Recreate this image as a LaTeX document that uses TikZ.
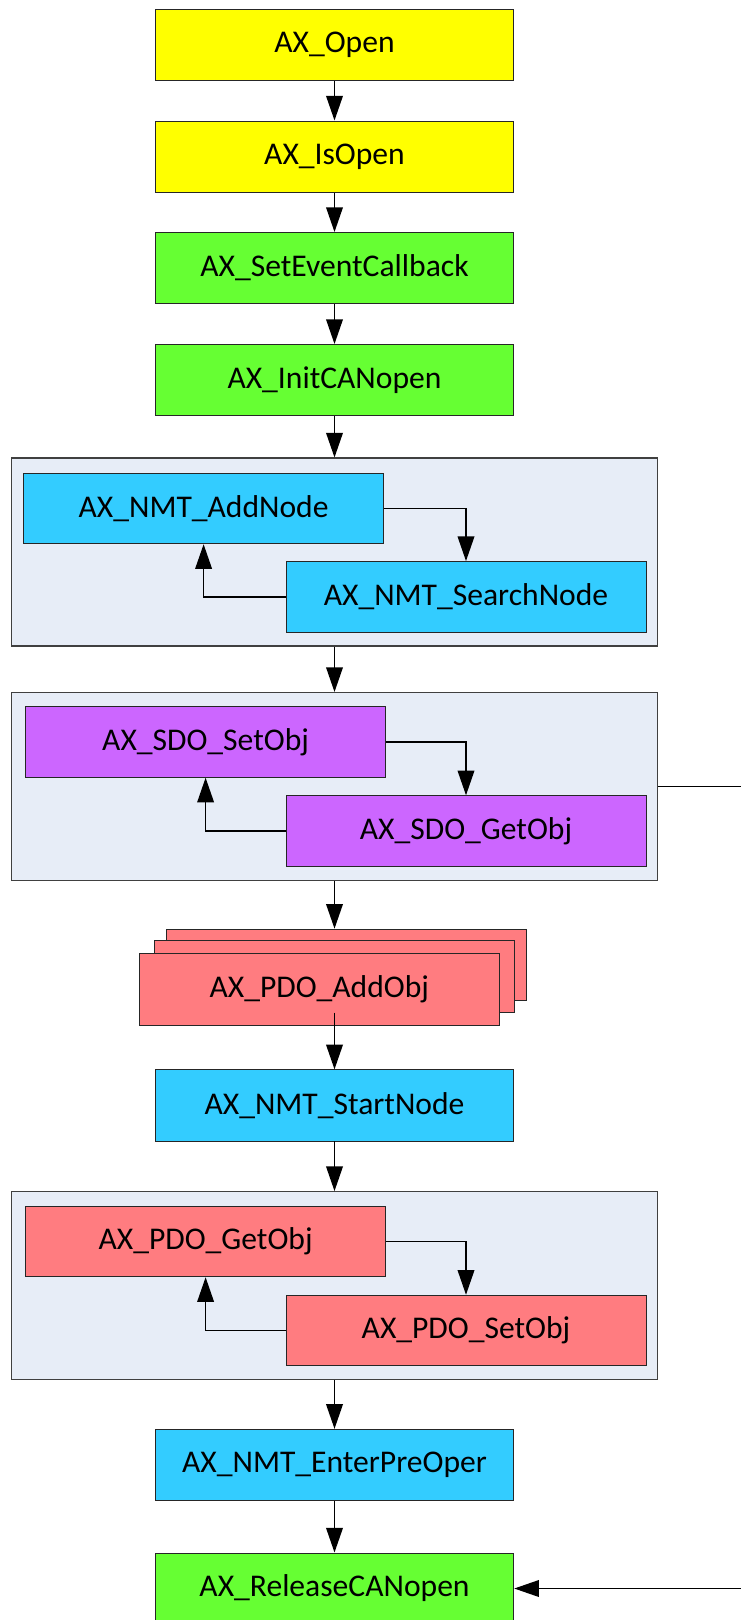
\documentclass[tikz,border=0pt]{standalone}
\usepackage{fontspec}
\setmainfont{Carlito}
\usetikzlibrary{arrows.meta}
\definecolor{cyel}{HTML}{FFFF00}
\definecolor{cgrn}{HTML}{66FF33}
\definecolor{ccya}{HTML}{33CCFF}
\definecolor{cpur}{HTML}{CC66FF}
\definecolor{csal}{HTML}{FF7C80}
\definecolor{cgrp}{HTML}{E7EDF7}
\definecolor{cgrpline}{HTML}{404040}
\begin{document}
\begin{tikzpicture}[x=0.75pt,y=-0.75pt,
  box/.style={draw=black!85, line width=0.6pt, minimum width=269pt, minimum height=53.4pt, inner sep=0pt, font=\fontsize{23.7}{28}\selectfont},
  ibox/.style={box, minimum width=270pt, minimum height=53pt},
  grp/.style={draw=cgrpline, line width=0.8pt, fill=cgrp, minimum width=484.2pt, minimum height=141pt, inner sep=0pt},
  arr/.style={draw=black, line width=1.1pt, -{Triangle[length=18.5pt,width=12.5pt]}},
  ln/.style={draw=black, line width=1.1pt}]
\useasboundingbox (0,0) rectangle (741,1620);

\node[box, fill=cyel] (open) at (334.5,45) {AX\_Open};
\node[box, fill=cyel] (isopen) at (334.5,156.5) {AX\_IsOpen};
\node[box, fill=cgrn] (setevt) at (334.5,268) {AX\_SetEventCallback};
\node[box, fill=cgrn] (init) at (334.5,380) {AX\_InitCANopen};

\node[grp] (g1) at (334.5,552) {};
\node[ibox, fill=ccya] (addnode) at (203.6,508.5) {AX\_NMT\_AddNode};
\node[ibox, fill=ccya] (search) at (466,596.8) {AX\_NMT\_SearchNode};

\node[grp] (g2) at (334.5,786.5) {};
\node[ibox, fill=cpur] (sdoset) at (205.6,742) {AX\_SDO\_SetObj};
\node[ibox, fill=cpur] (sdoget) at (466,831) {AX\_SDO\_GetObj};

\node[ibox, fill=csal, minimum height=53.6pt] (pdoback) at (346,964.8) {};
\node[ibox, fill=csal, minimum height=53.6pt] (pdomid) at (334.5,976.5) {};
\node[ibox, fill=csal, minimum height=53.6pt] (pdoadd) at (319.3,989.5) {AX\_PDO\_AddObj};

\node[box, fill=ccya] (start) at (334.5,1105.3) {AX\_NMT\_StartNode};

\node[grp] (g3) at (334.5,1285.6) {};
\node[ibox, fill=csal] (pdoget) at (205.6,1241.5) {AX\_PDO\_GetObj};
\node[ibox, fill=csal] (pdoset) at (466,1330.5) {AX\_PDO\_SetObj};

\node[box, fill=ccya] (enterpre) at (334.5,1464.8) {AX\_NMT\_EnterPreOper};
\node[box, fill=cgrn] (release) at (334.5,1588.5) {AX\_ReleaseCANopen};

\coordinate (redge) at (752,786.5);

\draw[arr] (open) -- (isopen);
\draw[arr] (isopen) -- (setevt);
\draw[arr] (setevt) -- (init);
\draw[arr] (init) -- (g1);
\draw[arr] (addnode.east) -| (search.north);
\draw[arr] (search.west) -| (addnode.south);
\draw[arr] (g1) -- (g2);
\draw[arr] (sdoset.east) -| (sdoget.north);
\draw[arr] (sdoget.west) -| (sdoset.south);
\draw[arr] (g2.south) -- (g2.south |- pdoback.north);
\draw[arr] (pdomid.south) -- (start.north);
\draw[arr] (start) -- (g3);
\draw[arr] (pdoget.east) -| (pdoset.north);
\draw[arr] (pdoset.west) -| (pdoget.south);
\draw[arr] (g3) -- (enterpre);
\draw[arr] (enterpre) -- (release);
\draw[arr] (g2.east) -- (redge) |- (release.east);
\end{tikzpicture}
\end{document}
